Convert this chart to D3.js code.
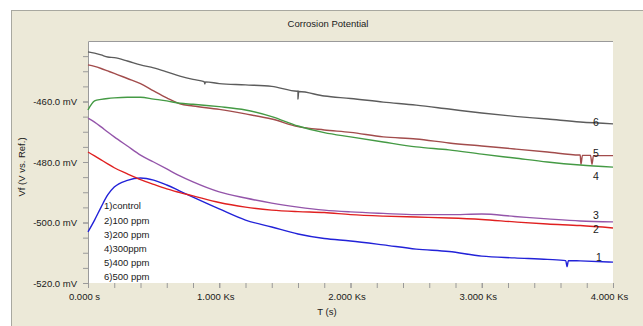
<!DOCTYPE html>
<html lang="en">
<head>
<meta charset="utf-8">
<title>Corrosion Potential</title>
<script src="https://d3js.org/d3.v7.min.js"></script>
<style type="text/css">
    body { margin: 0; background: #fff; }
    svg text {
        font-family: "Liberation Sans", Arial, sans-serif;
        font-size: 9.5px;
        fill: #1a1a1a;
    }
    .axis path.domain { display: none; }
    .axis line { stroke: #9a9a9a; }
    .series { fill: none; stroke-width: 1.4; stroke-linejoin: round; }
</style>
</head>
<body>
<script>

// data (time in s, potential in mV)
const time = [0, 50, 100, 150, 200, 300, 400, 500, 600, 700, 800, 1000, 1200,
              1400, 1600, 1800, 2000, 2250, 2500, 2750, 3000, 3250, 3500, 3750, 4000];

const control = [-503.1, -499.2, -494.9, -490.9, -488.3, -486.1, -485.3, -486.0, -487.6, -489.6, -491.6, -495.5, -499.2,
                 -501.5, -503.8, -505.3, -506.1, -507.4, -508.8, -509.6, -511.1, -511.7, -512.2, -512.7, -513.1];
const ppm100 = [-476.7, -478.0, -479.3, -480.6, -481.9, -483.9, -485.8, -487.4, -488.9, -490.1, -491.2, -493.4, -494.9,
                -495.9, -496.4, -496.7, -497.4, -497.9, -498.2, -498.5, -499.0, -499.8, -500.5, -501.0, -501.8];
const ppm200 = [-465.5, -466.8, -468.4, -470.1, -471.7, -474.7, -477.7, -480.0, -482.3, -484.6, -486.6, -489.9, -491.9,
                -493.6, -494.9, -495.9, -496.5, -497.0, -497.4, -497.4, -497.2, -498.0, -498.8, -499.5, -499.8];
const ppm300 = [-462.8, -459.8, -459.3, -459.0, -458.8, -458.6, -458.6, -459.2, -459.8, -460.6, -460.9, -461.7, -462.8,
                -465.0, -468.1, -470.3, -471.7, -473.4, -475.0, -476.0, -477.4, -478.7, -480.0, -481.0, -481.7];
const ppm400 = [-447.9, -448.4, -449.1, -449.9, -450.7, -452.4, -454.1, -456.5, -458.8, -460.8, -461.5, -462.6, -464.1,
                -465.8, -468.3, -469.4, -470.2, -471.7, -472.4, -473.7, -474.7, -475.7, -476.7, -477.7, -477.9];
const ppm500 = [-443.6, -444.0, -444.6, -445.3, -445.5, -446.6, -447.9, -448.9, -450.2, -451.6, -452.7, -454.1, -454.5,
                -455.0, -456.5, -458.2, -459.0, -460.2, -461.2, -462.5, -463.8, -464.9, -465.8, -466.8, -467.4];

// short spikes visible on some traces: [time, mV]
const spikesControl = [[3640, -512.6], [3650, -514.6], [3660, -512.6]];
const spikes400 = [[3745, -477.7], [3756, -480.8], [3767, -477.8],
                   [3829, -477.8], [3840, -480.8], [3851, -477.9]];
const spikes500 = [[885, -453.4], [890, -454.2], [895, -453.5],
                   [1595, -456.6], [1600, -459.2], [1605, -456.7]];

const seriesNames = ["1)control", "2)100 ppm", "3)200 ppm", "4)300ppm", "5)400 ppm", "6)500 ppm"];
const seriesTags = ["1", "2", "3", "4", "5", "6"];
const colors = ["#2222d8", "#e02020", "#9455aa", "#449a44", "#a24c4c", "#5c5c5c"];

const xMajor = [0, 1000, 2000, 3000, 4000];
const xTickLabels = ["0.000 s", "1.000 Ks", "2.000 Ks", "3.000 Ks", "4.000 Ks"];
const yMajor = [-520, -500, -480, -460];
const yTickLabels = ["-520.0 mV", "-500.0 mV", "-480.0 mV", "-460.0 mV"];

// layout
const W = 643, H = 326;
const plot = { left: 88, top: 41, right: 613, bottom: 283 };
const labelDy = [-5, 2, -6, 9, -2, -1];

const svg = d3.select("body").append("svg")
    .attr("width", W)
    .attr("height", H);

// outer beige panel
svg.append("rect")
    .attr("x", 11.5).attr("y", 10.5)
    .attr("width", W).attr("height", H)
    .attr("fill", "#ece9d8")
    .attr("stroke", "#a8a8a0");

// plot area
svg.append("rect")
    .attr("x", plot.left).attr("y", plot.top)
    .attr("width", plot.right - plot.left)
    .attr("height", plot.bottom - plot.top)
    .attr("fill", "#fff");
svg.append("path")
    .attr("d", `M${plot.left + 0.5},${plot.bottom}V${plot.top + 0.5}H${plot.right}`)
    .attr("fill", "none")
    .attr("stroke", "#9a9a9a");

let xScale = d3.scaleLinear().domain([0, 4000]).range([plot.left, plot.right]);
let yScale = d3.scaleLinear().domain([-520, -440]).range([plot.bottom, plot.top]);

// minor ticks
svg.append("g")
    .attr("class", "axis")
    .attr("transform", `translate(0,${plot.bottom})`)
    .call(d3.axisBottom(xScale).tickValues(d3.range(0, 4001, 200)).tickSize(5).tickFormat(""));
svg.append("g")
    .attr("class", "axis")
    .attr("transform", `translate(${plot.left},0)`)
    .call(d3.axisLeft(yScale).tickValues(d3.range(-520, -440, 5)).tickSize(5).tickFormat(""));

// major labels
let xAxis = svg.append("g")
    .attr("class", "axis")
    .attr("transform", `translate(0,${plot.bottom})`)
    .call(d3.axisBottom(xScale).tickValues(xMajor).tickSize(5).tickPadding(5)
        .tickFormat((d, i) => xTickLabels[i]));
xAxis.selectAll("text").attr("dx", -4).attr("fill", "#1a1a1a");

let yAxis = svg.append("g")
    .attr("class", "axis")
    .attr("transform", `translate(${plot.left},0)`)
    .call(d3.axisLeft(yScale).tickValues(yMajor).tickSize(5).tickPadding(6)
        .tickFormat((d, i) => yTickLabels[i]));
yAxis.selectAll("text").attr("fill", "#1a1a1a");

// titles
svg.append("text")
    .attr("x", 328).attr("y", 27)
    .attr("text-anchor", "middle")
    .text("Corrosion Potential");
svg.append("text")
    .attr("x", 327).attr("y", 315)
    .attr("text-anchor", "middle")
    .text("T (s)");
svg.append("text")
    .attr("transform", "translate(25,167) rotate(-90)")
    .attr("text-anchor", "middle")
    .text("Vf (V vs. Ref.)");

// series
const values = [control, ppm100, ppm200, ppm300, ppm400, ppm500];
const spikes = [spikesControl, [], [], [], spikes400, spikes500];

let line = d3.line()
    .curve(d3.curveMonotoneX)
    .x(d => xScale(d[0]))
    .y(d => yScale(d[1]));

let series = values.map((vals, i) => {
    let pts = time.map((t, j) => [t, vals[j]]).concat(spikes[i]);
    pts.sort((a, b) => a[0] - b[0]);
    return pts;
});

let g = svg.append("g");
// draw gray first so coloured lines sit on top
[5, 4, 3, 2, 0, 1].forEach(i => {
    g.append("path")
        .attr("class", "series")
        .attr("d", line(series[i]))
        .attr("stroke", colors[i]);
});

// trace tags at the right end
svg.selectAll("text.tag")
    .data(values)
    .enter()
    .append("text")
    .attr("class", "tag")
    .attr("x", (d, i) => i === 0 ? 599 : 596)
    .attr("y", (d, i) => yScale(d[d.length - 1]) + labelDy[i] + 3.5)
    .attr("text-anchor", "middle")
    .style("font-size", "10.5px")
    .text((d, i) => seriesTags[i]);

// legend text
svg.selectAll("text.legend")
    .data(seriesNames)
    .enter()
    .append("text")
    .attr("class", "legend")
    .attr("x", 104)
    .attr("y", (d, i) => 209.3 + i * 14.2)
    .text(d => d);

</script>
</body>
</html>
